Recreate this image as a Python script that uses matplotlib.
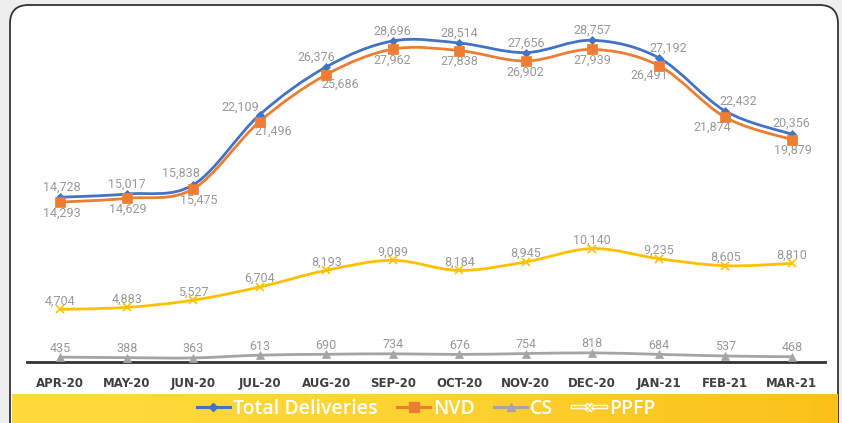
import numpy as np
import matplotlib.pyplot as plt
from matplotlib.path import Path
from matplotlib.patches import PathPatch, FancyBboxPatch
from matplotlib.lines import Line2D
from matplotlib.colors import LinearSegmentedColormap
import matplotlib.patheffects as pe

# data
months = ["APR-20", "MAY-20", "JUN-20", "JUL-20", "AUG-20", "SEP-20",
          "OCT-20", "NOV-20", "DEC-20", "JAN-21", "FEB-21", "MAR-21"]
total = [14728, 15017, 15838, 22109, 26376, 28696, 28514, 27656, 28757, 27192, 22432, 20356]
nvd = [14293, 14629, 15475, 21496, 25686, 27962, 27838, 26902, 27939, 26491, 21874, 19879]
cs = [435, 388, 363, 613, 690, 734, 676, 754, 818, 684, 537, 468]
ppfp = [4704, 4883, 5527, 6704, 8193, 9089, 8184, 8945, 10140, 9235, 8605, 8810]

# label offsets in points (dx, dy) for the two top series
total_off = [(1, 7), (0, 7), (-9, 8), (-14, 5), (-7, 7), (0, 7), (0, 7), (0, 7), (0, 7), (7, 7), (9, 7), (0, 8)]
nvd_off = [(1, -8), (1, -8), (4, -8.5), (10, -7), (10, -7), (0, -8), (0, -8), (0, -8), (0, -8), (-7, -7), (-9, -7), (1, -8)]

LABEL_FONT = ["Roboto", "DejaVu Sans"]
LABEL_COLOR = "#999999"


def smooth_path(x, y):
    # excel-like smoothed line as cubic bezier segments through the points
    pts = np.column_stack([x, y]).astype(float)
    n = len(pts)
    verts = [pts[0]]
    codes = [Path.MOVETO]
    for i in range(n - 1):
        p0 = pts[i - 1] if i > 0 else pts[i]
        p1 = pts[i]
        p2 = pts[i + 1]
        p3 = pts[i + 2] if i + 2 < n else pts[i + 1]
        c1 = p1 + (p2 - p0) / 6.0
        c2 = p2 - (p3 - p1) / 6.0
        verts += [c1, c2, p2]
        codes += [Path.CURVE4] * 3
    return Path(verts, codes)


fig = plt.figure(figsize=(8.42, 4.23), dpi=100)
fig.patch.set_facecolor("#eeeeee")

# white rounded card
card = FancyBboxPatch((10 / 842, -0.05), 828 / 842, 1.05 - 5 / 423,
                      boxstyle="round,pad=0,rounding_size=0.022",
                      transform=fig.transFigure, facecolor="white",
                      edgecolor="#333333", linewidth=1.3, mutation_aspect=842 / 423,
                      zorder=-10)
fig.patches.append(card)

# yellow legend band
band = fig.add_axes([12 / 842, 0, 825 / 842, 29 / 423], zorder=1)
grad = np.linspace(0, 1, 256).reshape(1, -1)
cmap = LinearSegmentedColormap.from_list("band", ["#ffdc3c", "#fdd332", "#fbc11a"])
band.imshow(grad, aspect="auto", cmap=cmap, extent=[0, 1, 0, 1])
band.axis("off")

ax = fig.add_axes([27 / 842, 61 / 423, 798 / 842, 358 / 423], zorder=2)
ax.set_facecolor("none")
x = np.arange(len(months))

series = [
    ("Total Deliveries", total, "#4472c4", "D", 4.5),
    ("NVD", nvd, "#ed7d31", "s", 6.5),
    ("CS", cs, "#a5a5a5", "^", 6),
    ("PPFP", ppfp, "#ffc000", "x", 6),
]

for name, vals, col, mk, ms in series:
    ax.add_patch(PathPatch(smooth_path(x, vals), facecolor="none", edgecolor=col,
                           linewidth=2.0, capstyle="round", zorder=3))
    ax.plot(x, vals, linestyle="none", marker=mk, color=col, markersize=ms,
            markeredgewidth=1.2 if mk == "x" else 0.5, zorder=4)

for i, v in enumerate(total):
    ax.annotate(f"{v:,}", (x[i], v), xytext=total_off[i], textcoords="offset points",
                ha="center", va="center", fontsize=9, color=LABEL_COLOR, family=LABEL_FONT)
for i, v in enumerate(nvd):
    ax.annotate(f"{v:,}", (x[i], v), xytext=nvd_off[i], textcoords="offset points",
                ha="center", va="center", fontsize=9, color=LABEL_COLOR, family=LABEL_FONT)
for vals, dy in ((ppfp, 6), (cs, 6.5)):
    for i, v in enumerate(vals):
        ax.annotate(f"{v:,}", (x[i], v), xytext=(0, dy), textcoords="offset points",
                    ha="center", va="center", fontsize=9, color=LABEL_COLOR, family=LABEL_FONT)

ax.set_xlim(-0.5, len(months) - 0.5)
ax.set_ylim(0, 32000)
ax.set_xticks(x)
ax.set_xticklabels(months, fontsize=8.5, fontweight="bold", color="#404040")
ax.tick_params(axis="x", length=0, pad=11)
ax.set_yticks([])
for s in ["top", "right", "left"]:
    ax.spines[s].set_visible(False)
ax.spines["bottom"].set_color("#333333")
ax.spines["bottom"].set_linewidth(2)

# legend
handles = []
for name, vals, col, mk, ms in series:
    if name == "PPFP":
        h = Line2D([], [], color="#ffd54a", lw=1.6, marker="x", markersize=5,
                   markeredgecolor="#ffd54a", markeredgewidth=1.0,
                   path_effects=[pe.Stroke(linewidth=3.2, foreground="white"), pe.Normal()])
    else:
        h = Line2D([], [], color=col, lw=2.2, marker=mk, markersize=ms)
    handles.append(h)
leg = band.legend(handles, [s[0] for s in series], loc="center", bbox_to_anchor=(426 / 842, 14 / 423),
                  bbox_transform=fig.transFigure,
                  ncol=4, frameon=False, handlelength=1.7, handletextpad=0.15,
                  columnspacing=1.0, labelcolor="white",
                  prop={"family": ["Open Sans", "DejaVu Sans"], "size": 14, "weight": 600})

fig.savefig("out.png", dpi=100, facecolor=fig.get_facecolor())
